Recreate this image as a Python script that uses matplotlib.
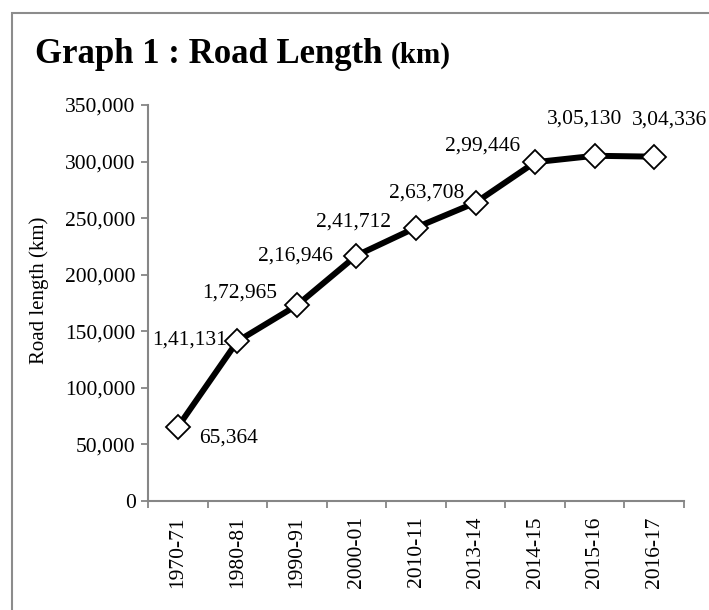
import numpy as np
import matplotlib
matplotlib.use('Agg')
from matplotlib import pyplot as plt
from matplotlib.patches import Rectangle

plt.rcParams['font.family'] = ['Liberation Serif', 'DejaVu Serif']

years = ['1970-71', '1980-81', '1990-91', '2000-01', '2010-11',
         '2013-14', '2014-15', '2015-16', '2016-17']
road_km = [65364, 141131, 172965, 216946, 241712, 263708, 299446, 305130, 304336]
value_labels = ['65,364', '1,41,131', '1,72,965', '2,16,946', '2,41,712',
                '2,63,708', '2,99,446', '3,05,130', '3,04,336']

W, H = 709, 610
fig = plt.figure(figsize=(W / 100, H / 100), dpi=100)

# gray frame round the chart (runs off right / bottom edge)
fig.patches.append(Rectangle((12 / W, -0.1), 1.2, 1.1 - 13.5 / H,
                             transform=fig.transFigure, fill=False,
                             edgecolor='#8c8c8c', lw=1.5))

ax = fig.add_axes([148 / W, 1 - 501 / H, (684 - 148) / W, (501 - 105) / H])

x = np.arange(len(years))
ax.plot(x, road_km, color='black', lw=4.3, marker='D', ms=12.5,
        mfc='white', mec='black', mew=1.3, zorder=3, clip_on=False)

# label placement: (dx, dy) pixels, alignment
place = [(21, -11, 'left'), (-10, 1, 'right'), (-20, 12, 'right'),
         (-24, -1, 'right'), (-25, 5, 'right'), (-11, 10, 'right'),
         (-15, 16, 'right'), (-10, 37, 'center'), (15, 37, 'center')]
for xi, v, lab, (dx, dy, ha) in zip(x, road_km, value_labels, place):
    ax.annotate(lab, (xi, v), xytext=(dx, dy), textcoords='offset pixels',
                ha=ha, va='center', fontsize=15.5, annotation_clip=False)

ax.set_xlim(-0.5, len(years) - 0.5)
ax.set_ylim(0, 350000)
ax.set_yticks(np.arange(0, 350001, 50000))
ax.set_yticklabels(['{:,}'.format(v) for v in range(0, 350001, 50000)], fontsize=15.5)
ax.set_xticks(x)
ax.set_xticklabels(years, rotation=90, fontsize=15.5)
ax.set_xticks(np.arange(-0.5, len(years)), minor=True)
ax.tick_params(axis='x', which='major', length=0, pad=11)
ax.tick_params(axis='x', which='minor', length=5, color='#868686', width=1.3)
ax.tick_params(axis='y', length=5, color='#868686', width=1.3, pad=4)

for s in ['top', 'right']:
    ax.spines[s].set_visible(False)
for s in ['left', 'bottom']:
    ax.spines[s].set_color('#868686')
    ax.spines[s].set_linewidth(1.5)

fig.text(39 / W, 1 - 290 / H, 'Road length (km)', rotation=90,
         ha='center', va='center', fontsize=15)

t = fig.text(35 / W, 1 - 63 / H, 'Graph 1 : Road Length ', fontsize=25,
             fontweight='bold', ha='left', va='baseline')
fig.canvas.draw()
bb = t.get_window_extent()
fig.text(bb.x1 / W, 1 - 63 / H, '(km)', fontsize=21, fontweight='bold',
         ha='left', va='baseline')

fig.savefig('out.png', dpi=100)
